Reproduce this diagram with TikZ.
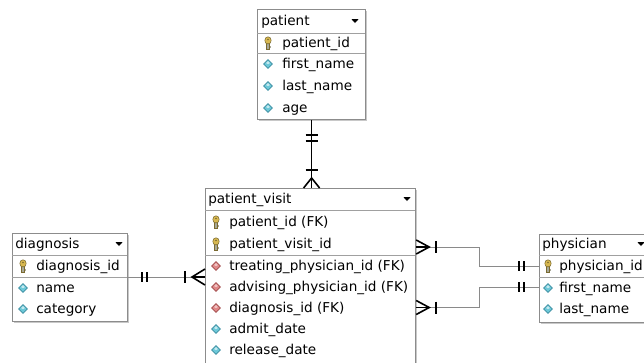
\documentclass[tikz,border=0pt]{standalone}
\usepackage{fontspec}
\setmainfont{DejaVu Sans}
\definecolor{boxline}{HTML}{8C8C8C}
\definecolor{boxshadow}{HTML}{C8C8C8}
\definecolor{sepline}{HTML}{A0A0A0}
\definecolor{relgray}{HTML}{8A8A8A}
\definecolor{keygold}{HTML}{D8B850}
\definecolor{keyedge}{HTML}{7A6A30}
\definecolor{keystem}{HTML}{A8A898}
\definecolor{attfill}{HTML}{6CC8D8}
\definecolor{attedge}{HTML}{3A8CA0}
\definecolor{fkfill}{HTML}{E08888}
\definecolor{fkedge}{HTML}{A04848}
\begin{document}
\begin{tikzpicture}[x=0.75pt,y=-0.75pt,
  tbl/.style={draw=boxline,fill=white,line width=0.9pt,anchor=north west,inner sep=0pt},
  shadowbox/.style={fill=boxshadow,draw=none,anchor=north west,inner sep=0pt},
  sep/.style={draw=sepline,line width=0.75pt},
  rowtxt/.style={anchor=base west,inner sep=0pt,font=\fontsize{10.2pt}{12pt}\selectfont},
  relline/.style={draw=relgray,line width=0.75pt},
  relblack/.style={draw=black,line width=0.75pt},
  relmark/.style={draw=black,line width=1.2pt},
  keyicon/.pic={
    \fill[keystem] (-1.4,0) rectangle (1.4,6.5);
    \fill[keystem] (1.4,3) rectangle (2.8,4.6);
    \draw[keyedge,line width=0.4pt] (-1.4,0) -- (-1.4,6.5) -- (1.4,6.5) -- (1.4,0);
    \filldraw[fill=keygold,draw=keyedge,line width=0.4pt] (0,-2.6) ellipse (3.2 and 3.6);
    \fill[keyedge] (0,-3.6) circle (0.9);
  },
  atticon/.pic={
    \filldraw[fill=attfill,draw=attedge,line width=0.5pt] (0,-4.3) -- (4.3,0) -- (0,4.3) -- (-4.3,0) -- cycle;
    \fill[white,opacity=0.6] (0,-3) -- (2,-1) -- (0,0.2) -- (-2,-1) -- cycle;
  },
  fkicon/.pic={
    \filldraw[fill=fkfill,draw=fkedge,line width=0.5pt] (0,-4.3) -- (4.3,0) -- (0,4.3) -- (-4.3,0) -- cycle;
    \fill[white,opacity=0.5] (0,-3) -- (2,-1) -- (0,0.2) -- (-2,-1) -- cycle;
  },
  dropicon/.pic={
    \fill[black] (-3.5,-1.8) -- (3.5,-1.8) -- (0,2) -- cycle;
  }
]
\useasboundingbox (0,0) rectangle (644,362);
\clip (0,0) rectangle (644,362);

% ---------------- patient ----------------
\node[shadowbox,minimum width=81pt,minimum height=82.5pt] (patientsh) at (259,11) {};
\node[tbl,minimum width=81pt,minimum height=82.5pt] (patient) at (257,9) {};
\draw[sep] (257,33) -- (365,33);
\draw[sep] (257,53) -- (365,53);
\node[rowtxt] (p-h) at (261,25.5) {patient};
\pic at (355,21) {dropicon};
\pic at (268,43) {keyicon};
\node[rowtxt] (p-1) at (282,47.5) {patient\_id};
\pic at (268,64) {atticon};
\node[rowtxt] (p-2) at (282,68.5) {first\_name};
\pic at (268,86) {atticon};
\node[rowtxt] (p-3) at (282,90.5) {last\_name};
\pic at (268,108) {atticon};
\node[rowtxt] (p-4) at (282,112.5) {age};

% ---------------- patient_visit ----------------
\node[shadowbox,minimum width=157.5pt,minimum height=140pt] (pvsh) at (207,190) {};
\node[tbl,minimum width=157.5pt,minimum height=140pt] (pv) at (205,188) {};
\draw[sep] (205,210) -- (415,210);
\draw[sep] (205,255) -- (415,255);
\node[rowtxt] (pv-h) at (208,203.5) {patient\_visit};
\pic at (407,199) {dropicon};
\pic at (216,222) {keyicon};
\node[rowtxt] (pv-1) at (229,226.5) {patient\_id (FK)};
\pic at (216,244) {keyicon};
\node[rowtxt] (pv-2) at (229,248.5) {patient\_visit\_id};
\pic at (216,266) {fkicon};
\node[rowtxt] (pv-3) at (229,270.5) {treating\_physician\_id (FK)};
\pic at (216,287) {fkicon};
\node[rowtxt] (pv-4) at (229,291.5) {advising\_physician\_id (FK)};
\pic at (216,308) {fkicon};
\node[rowtxt] (pv-5) at (229,312.5) {diagnosis\_id (FK)};
\pic at (216,329) {atticon};
\node[rowtxt] (pv-6) at (229,333.5) {admit\_date};
\pic at (216,350) {atticon};
\node[rowtxt] (pv-7) at (229,354.5) {release\_date};

% ---------------- diagnosis ----------------
\node[shadowbox,minimum width=86.25pt,minimum height=66pt] (dgsh) at (14,235) {};
\node[tbl,minimum width=86.25pt,minimum height=66pt] (dg) at (12,233) {};
\draw[sep] (12,255) -- (127,255);
\draw[sep] (12,277) -- (127,277);
\node[rowtxt] (dg-h) at (15,248.5) {diagnosis};
\pic at (119,244) {dropicon};
\pic at (23,266) {keyicon};
\node[rowtxt] (dg-1) at (36,270.5) {diagnosis\_id};
\pic at (23,288) {atticon};
\node[rowtxt] (dg-2) at (36,292.5) {name};
\pic at (23,309) {atticon};
\node[rowtxt] (dg-3) at (36,313.5) {category};
\coordinate (dg-sep) at (12,277);

% ---------------- physician ----------------
\node[shadowbox,minimum width=90.75pt,minimum height=66pt] (phsh) at (541,236) {};
\node[tbl,minimum width=90.75pt,minimum height=66pt] (ph) at (539,234) {};
\draw[sep] (539,255) -- (660,255);
\draw[sep] (539,277) -- (660,277);
\node[rowtxt] (ph-h) at (542,248.5) {physician};
\pic at (641,244) {dropicon};
\pic at (548,266) {keyicon};
\node[rowtxt] (ph-1) at (559,270.5) {physician\_id};
\pic at (548,288) {atticon};
\node[rowtxt] (ph-2) at (559,292.5) {first\_name};
\pic at (548,309) {atticon};
\node[rowtxt] (ph-3) at (559,313.5) {last\_name};

% ---------------- relationships ----------------
% patient -> patient_visit
\coordinate (r1s) at (patient.south);
\coordinate (r1e) at (patient.south |- pv.north);
\draw[relblack] (r1s) -- (r1e);
\draw[relmark] ([shift={(-6,15)}]r1s) -- ++(12,0);
\draw[relmark] ([shift={(-6,21)}]r1s) -- ++(12,0);
\draw[relmark] ([shift={(-6,-18)}]r1e) -- ++(12,0);
\draw[relmark] ([shift={(-8,0)}]r1e) -- ([shift={(0,-10)}]r1e) -- ([shift={(8,0)}]r1e);

% diagnosis -> patient_visit
\coordinate (r2s) at (dg.east |- dg-sep);
\coordinate (r2e) at (pv.west |- dg-sep);
\draw[relline] (r2s) -- (r2e);
\draw[relmark] ([shift={(14,-5)}]r2s) -- ++(0,10);
\draw[relmark] ([shift={(19,-5)}]r2s) -- ++(0,10);
\draw[relmark] ([shift={(-20,-6)}]r2e) -- ++(0,12);
\draw[relmark] ([shift={(0,-8)}]r2e) -- ([shift={(-13,0)}]r2e) -- ([shift={(0,8)}]r2e);
\draw[relmark] ([shift={(-13,0)}]r2e) -- (r2e);

% physician -> patient_visit (upper)
\coordinate (elbow) at (479,0);
\coordinate (r3s) at (pv.east |- pv-2.base);
\coordinate (r3s) at ([shift={(0,-1.5)}]r3s);
\coordinate (r3e) at (ph.west |- ph-1.base);
\coordinate (r3e) at ([shift={(0,-4.5)}]r3e);
\draw[relline] (r3s) -- (r3s -| elbow) |- (r3e);
\draw[relmark] ([shift={(0,-7)}]r3s) -- ([shift={(13,0)}]r3s) -- ([shift={(0,7)}]r3s);
\draw[relmark] (r3s) -- ([shift={(13,0)}]r3s);
\draw[relmark] ([shift={(20,-6)}]r3s) -- ++(0,12);
\draw[relmark] ([shift={(-20,-5)}]r3e) -- ++(0,10);
\draw[relmark] ([shift={(-15,-5)}]r3e) -- ++(0,10);

% physician -> patient_visit (lower)
\coordinate (r4s) at (pv.east |- pv-5.base);
\coordinate (r4s) at ([shift={(0,-5)}]r4s);
\coordinate (r4e) at (ph.west |- ph-2.base);
\coordinate (r4e) at ([shift={(0,-5.5)}]r4e);
\draw[relline] (r4s) -- (r4s -| elbow) |- (r4e);
\draw[relmark] ([shift={(0,-7)}]r4s) -- ([shift={(13,0)}]r4s) -- ([shift={(0,7)}]r4s);
\draw[relmark] (r4s) -- ([shift={(13,0)}]r4s);
\draw[relmark] ([shift={(20,-6)}]r4s) -- ++(0,12);
\draw[relmark] ([shift={(-20,-5)}]r4e) -- ++(0,10);
\draw[relmark] ([shift={(-15,-5)}]r4e) -- ++(0,10);
\end{tikzpicture}
\end{document}
